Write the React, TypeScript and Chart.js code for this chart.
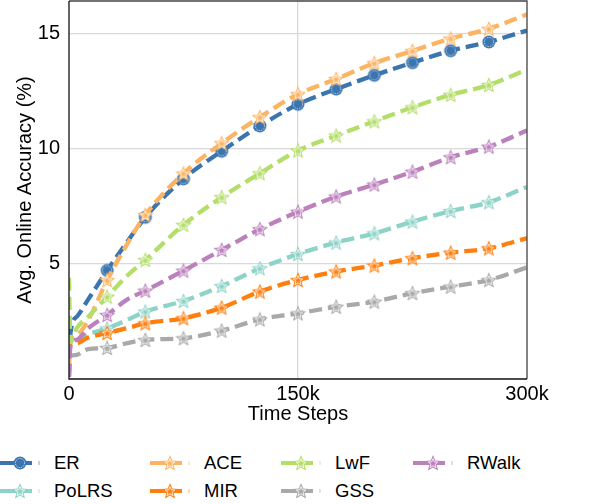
import { useEffect, useRef } from 'react'
import Chart from 'chart.js/auto'

const steps = [0, 1000, 5000, 12500, 25000, 37500, 50000, 75000, 100000, 125000, 150000, 175000, 200000, 225000, 250000, 275000, 300000]

const er = [0.1, 2.0, 2.7, 3.45, 4.72, 5.9, 7.03, 8.7, 9.9, 11.0, 11.94, 12.6, 13.2, 13.75, 14.27, 14.65, 15.15]
const polrs = [1.0, 1.6, 1.7, 1.95, 2.2, 2.55, 2.93, 3.39, 4.04, 4.81, 5.43, 5.93, 6.33, 6.84, 7.3, 7.68, 8.35]
const ace = [0.5, 1.6, 1.9, 2.55, 4.3, 5.8, 7.13, 8.93, 10.25, 11.38, 12.38, 13.04, 13.73, 14.26, 14.8, 15.22, 15.85]
const mir = [1.0, 1.5, 1.55, 1.8, 2.0, 2.2, 2.42, 2.64, 3.1, 3.8, 4.3, 4.67, 4.93, 5.25, 5.49, 5.68, 6.12]
const lwf = [4.4, 1.6, 2.2, 2.7, 3.58, 4.45, 5.17, 6.7, 7.9, 8.94, 9.93, 10.58, 11.2, 11.81, 12.35, 12.78, 13.45]
const gss = [0.9, 1.0, 1.05, 1.3, 1.35, 1.55, 1.7, 1.77, 2.1, 2.59, 2.85, 3.14, 3.36, 3.73, 4.01, 4.3, 4.85]
const rwalk = [0.1, 1.5, 1.7, 2.2, 2.78, 3.43, 3.84, 4.71, 5.61, 6.51, 7.27, 7.93, 8.45, 9.01, 9.64, 10.1, 10.8]

const xTicks = [0, 150000, 300000]
const yTicks = [5, 10, 15]

type Shape = 'circle' | 'star'

const series: { label: string; data: number[]; color: string; shape: Shape }[] = [
  { label: 'ER', data: er, color: '#3b75af', shape: 'circle' },
  { label: 'PoLRS', data: polrs, color: '#8dd3c7', shape: 'star' },
  { label: 'ACE', data: ace, color: '#fdb462', shape: 'star' },
  { label: 'MIR', data: mir, color: '#ff7f0e', shape: 'star' },
  { label: 'LwF', data: lwf, color: '#b3de69', shape: 'star' },
  { label: 'GSS', data: gss, color: '#a9a9a9', shape: 'star' },
  { label: 'RWalk', data: rwalk, color: '#bc80bd', shape: 'star' },
]

// legend layout (matplotlib ncol=4)
const legendOrder = ['ER', 'ACE', 'LwF', 'RWalk', 'PoLRS', 'MIR', 'GSS']
const legendCols = [0, 150, 281, 413]
const legendRows = [463, 491]

const FONT = "'Liberation Sans', Arial, Helvetica, sans-serif"

const starPts = (cx: number, cy: number, R: number, r: number) => {
  const pts: [number, number][] = []
  for (let i = 0; i < 10; i++) {
    const a = -Math.PI / 2 + (i * Math.PI) / 5
    const rad = i % 2 === 0 ? R : r
    pts.push([cx + rad * Math.cos(a), cy + rad * Math.sin(a)])
  }
  return pts
}

function makeMarker(color: string, shape: Shape) {
  const c = document.createElement('canvas')
  c.width = 20
  c.height = 20
  const ctx = c.getContext('2d')!
  if (shape === 'circle') {
    ctx.fillStyle = color
    ctx.beginPath()
    ctx.arc(10, 10, 6.5, 0, Math.PI * 2)
    ctx.fill()
    ctx.strokeStyle = '#fff'
    ctx.lineWidth = 0.8
    ctx.setLineDash([1.2, 1.2])
    ctx.beginPath()
    ctx.arc(10, 10, 4.6, 0, Math.PI * 2)
    ctx.stroke()
  } else {
    ctx.fillStyle = color
    ctx.beginPath()
    starPts(10, 10.6, 8.6, 3.8).forEach(([x, y], i) => (i ? ctx.lineTo(x, y) : ctx.moveTo(x, y)))
    ctx.closePath()
    ctx.fill()
    ctx.strokeStyle = '#fff'
    ctx.lineWidth = 0.8
    ctx.beginPath()
    starPts(10, 10.6, 5, 2.2).forEach(([x, y], i) => (i ? ctx.lineTo(x, y) : ctx.moveTo(x, y)))
    ctx.closePath()
    ctx.stroke()
  }
  return c
}

function LegendIcon({ color, shape }: { color: string; shape: Shape }) {
  const pts = starPts(20, 10.6, 8.6, 3.8).map((p) => p.join(',')).join(' ')
  const inner = starPts(20, 10.6, 5, 2.2).map((p) => p.join(',')).join(' ')
  return (
    <svg width={44} height={20} style={{ display: 'block' }}>
      <line x1={0} y1={10} x2={32} y2={10} stroke={color} strokeWidth={4} />
      <line x1={38.5} y1={10} x2={39.5} y2={10} stroke={color} strokeWidth={4} opacity={0.6} />
      {shape === 'circle' ? (
        <>
          <circle cx={20} cy={10} r={6.5} fill={color} />
          <circle cx={20} cy={10} r={4.6} fill="none" stroke="#fff" strokeWidth={0.8} strokeDasharray="1.2 1.2" />
        </>
      ) : (
        <>
          <polygon points={pts} fill={color} />
          <polygon points={inner} fill="none" stroke="#fff" strokeWidth={0.8} />
        </>
      )}
    </svg>
  )
}

// axes frame: dark left/bottom, grey top/right
const framePlugin = {
  id: 'frame',
  afterDraw(chart: any) {
    const { ctx, chartArea: a } = chart
    ctx.save()
    ctx.lineWidth = 1.3
    ctx.strokeStyle = '#444'
    ctx.beginPath()
    ctx.moveTo(a.left, a.top)
    ctx.lineTo(a.right, a.top)
    ctx.lineTo(a.right, a.bottom)
    ctx.stroke()
    ctx.strokeStyle = '#111'
    ctx.beginPath()
    ctx.moveTo(a.left, a.top)
    ctx.lineTo(a.left, a.bottom)
    ctx.lineTo(a.right, a.bottom)
    ctx.stroke()
    ctx.restore()
  },
}

export default function App() {
  const canvasRef = useRef<HTMLCanvasElement>(null)
  const chartRef = useRef<Chart | null>(null)

  useEffect(() => {
    document.body.style.margin = '0'
    if (!canvasRef.current) return
    if (chartRef.current) chartRef.current.destroy()

    Chart.defaults.font.family = FONT
    Chart.defaults.color = '#000'

    chartRef.current = new Chart(canvasRef.current, {
      type: 'line',
      data: {
        datasets: series.map((s, i) => ({
          label: s.label,
          data: s.data.map((v, j) => ({ x: steps[j], y: v })),
          borderColor: s.color,
          backgroundColor: s.color,
          borderWidth: 4.3,
          borderDash: [13, 6],
          borderCapStyle: 'butt',
          cubicInterpolationMode: 'monotone',
          pointStyle: makeMarker(s.color, s.shape),
          pointRadius: (c: any) => {
            const x = steps[c.dataIndex]
            return x > 0 && x < 300000 && x % 25000 === 0 ? 7 : 0
          },
          order: series.length - i,
          fill: false,
        })),
      },
      options: {
        animation: false,
        responsive: true,
        maintainAspectRatio: false,
        layout: { padding: { top: 1, right: 71, left: 0, bottom: 0 } },
        plugins: { legend: { display: false }, tooltip: { enabled: false } },
        scales: {
          x: {
            type: 'linear',
            min: 0,
            max: 300000,
            afterBuildTicks: (sc: any) => { sc.ticks = xTicks.map((v) => ({ value: v })) },
            afterFit: (sc: any) => {
              sc.height = 51
              sc.paddingLeft = 0
              sc.paddingRight = 0
            },
            grid: {
              drawTicks: false,
              color: (c: any) => (c.tick && c.tick.value === 150000 ? '#d9d9d9' : 'rgba(0,0,0,0)'),
              lineWidth: 1.3,
            },
            border: { display: false },
            ticks: {
              padding: 3,
              maxRotation: 0,
              font: { size: 20 },
              callback: (v: any) => (v === 0 ? '0' : `${v / 1000}k`),
            },
            title: { display: true, text: 'Time Steps', font: { size: 20 }, padding: { top: 0, bottom: 4 } },
          },
          y: {
            min: 0,
            max: 16.43,
            afterBuildTicks: (sc: any) => { sc.ticks = yTicks.map((v) => ({ value: v })) },
            afterFit: (sc: any) => {
              sc.width = 69
              sc.paddingTop = 0
              sc.paddingBottom = 0
            },
            grid: { drawTicks: false, color: '#d9d9d9', lineWidth: 1.3 },
            border: { display: false },
            ticks: { padding: 9, font: { size: 20 } },
            title: {
              display: true,
              text: 'Avg. Online Accuracy (%)',
              font: { size: 20 },
              padding: { top: 13, bottom: 0 },
            },
          },
        },
      },
      plugins: [framePlugin],
    } as any)

    return () => { chartRef.current?.destroy() }
  }, [])

  return (
    <div style={{ position: 'relative', width: 598, height: 504, fontFamily: FONT, background: '#fff' }}>
      <div style={{ position: 'relative', width: 598, height: 430 }}>
        <canvas ref={canvasRef} />
      </div>
      {legendOrder.map((name, k) => {
        const s = series.find((d) => d.label === name)!
        const col = k % 4
        const row = Math.floor(k / 4)
        return (
          <div
            key={name}
            style={{
              position: 'absolute',
              left: legendCols[col],
              top: legendRows[row] - 10,
              height: 20,
              display: 'flex',
              alignItems: 'center',
            }}
          >
            <LegendIcon color={s.color} shape={s.shape} />
            <span style={{ marginLeft: 10, fontSize: 18.5, lineHeight: '20px', color: '#000' }}>{name}</span>
          </div>
        )
      })}
    </div>
  )
}
